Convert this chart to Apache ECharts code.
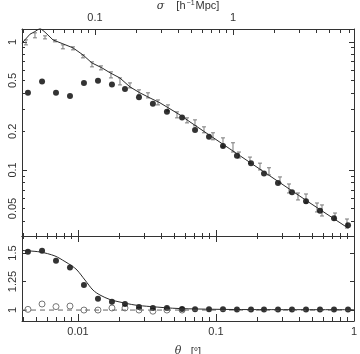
<!DOCTYPE html>
<html>
<head>
<meta charset="utf-8">
<script src="https://cdn.jsdelivr.net/npm/echarts@6/dist/echarts.min.js"></script>
<style>
  html, body { margin: 0; padding: 0; background: #fff; }
  #chart { width: 360px; height: 354px; }
</style>
</head>
<body>
<div id="chart"></div>
<script>
// axis ranges
const THETA_MIN = 0.00393, THETA_MAX = 1;
const SIGMA_MIN = 0.0296, SIGMA_MAX = 7.53;
const W_MIN = 0.0305, W_MAX = 1.26;
const RATIO_MIN = 0.904, RATIO_MAX = 1.649;

// tick values
const THETA_MAJOR = [0.01, 0.1];
const THETA_MINOR = [0.004, 0.005, 0.006, 0.007, 0.008, 0.009,
  0.02, 0.03, 0.04, 0.05, 0.06, 0.07, 0.08, 0.09,
  0.2, 0.3, 0.4, 0.5, 0.6, 0.7, 0.8, 0.9];
const THETA_LABELS = [0.01, 0.1, 1];
const SIGMA_MAJOR = [0.1, 1];
const SIGMA_MINOR = [0.03, 0.04, 0.05, 0.06, 0.07, 0.08, 0.09,
  0.2, 0.3, 0.4, 0.5, 0.6, 0.7, 0.8, 0.9, 2, 3, 4, 5, 6, 7];
const SIGMA_LABELS = [0.1, 1];
const W_MAJOR = [0.1, 1];
const W_MINOR = [0.04, 0.05, 0.06, 0.07, 0.08, 0.09,
  0.2, 0.3, 0.4, 0.5, 0.6, 0.7, 0.8, 0.9];
const W_LABELS = [0.05, 0.1, 0.2, 0.5, 1];
const RATIO_TICKS = [1, 1.25, 1.5];

// binned points (shared theta)
const THETA_PTS = [0.00434, 0.00549, 0.00693, 0.00875, 0.01105, 0.01396, 0.01763, 0.02191,
  0.02767, 0.0349, 0.0441, 0.0568, 0.0705, 0.089, 0.1124, 0.1419, 0.1794, 0.2228,
  0.2813, 0.3553, 0.449, 0.5672, 0.7165, 0.905];
const W_FILLED = [0.40, 0.49, 0.40, 0.378, 0.478, 0.497, 0.465, 0.428,
  0.37, 0.328, 0.285, 0.257, 0.205, 0.182, 0.154, 0.129, 0.113, 0.094,
  0.079, 0.067, 0.057, 0.048, 0.042, 0.037];
const RATIO_FILLED = [1.511, 1.52, 1.432, 1.374, 1.219, 1.1, 1.073, 1.053,
  1.026, 1.018, 1.018, 1.01, 1.006, 1.006, 1.006, 1.005, 1.005, 1.005,
  1.005, 1.005, 1.004, 1.004, 1.004, 1.004];
const RATIO_OPEN = [1.006, 1.053, 1.03, 1.035, 1.0, 1.0, 1.018, 1.018, 1.0, 0.99, 1.0, 1.0];

// error bar sample
const EB_THETA = [0.0042, 0.00488, 0.00577, 0.00681, 0.00778, 0.0092, 0.01087, 0.01263,
  0.01468, 0.01734, 0.02015, 0.02381, 0.02767, 0.03215, 0.038, 0.0449, 0.05218, 0.06165,
  0.07045, 0.08185, 0.09512, 0.1124, 0.1328, 0.1468, 0.1763, 0.2084, 0.2421, 0.2909,
  0.338, 0.3928, 0.449, 0.5393, 0.5862, 0.7284, 0.8897];
const EB_LOW = [0.947, 1.075, 1.055, 1.0, 0.882, 0.866, 0.75, 0.638,
  0.604, 0.523, 0.461, 0.437, 0.386, 0.365, 0.322, 0.289, 0.255, 0.233,
  0.221, 0.195, 0.172, 0.151, 0.138, 0.124, 0.113, 0.100, 0.0914, 0.0791,
  0.0661, 0.0583, 0.0552, 0.047, 0.0437, 0.0407, 0.0352];
const EB_HIGH = [1.037, 1.176, 1.114, 1.037, 0.947, 0.914, 0.791, 0.698,
  0.649, 0.583, 0.523, 0.478, 0.422, 0.40, 0.352, 0.322, 0.284, 0.255,
  0.246, 0.217, 0.195, 0.178, 0.163, 0.138, 0.126, 0.113, 0.104, 0.0882,
  0.0777, 0.0661, 0.0649, 0.0552, 0.0533, 0.0461, 0.0414];

// model curve, upper panel
const FIT_THETA = [0.00393, 0.00413, 0.00449, 0.00488, 0.00531, 0.00577, 0.00659, 0.00778,
  0.0092, 0.01087, 0.0126, 0.0149, 0.0171, 0.0201, 0.0238, 0.0281, 0.0332, 0.0393,
  0.0464, 0.0548, 0.0648, 0.126, 0.246, 0.48, 0.905];
const FIT_W = [0.977, 1.037, 1.148, 1.203, 1.28, 1.19, 1.036, 0.965,
  0.898, 0.791, 0.685, 0.627, 0.573, 0.523, 0.445, 0.40, 0.365, 0.334,
  0.30, 0.269, 0.237, 0.146, 0.0898, 0.0552, 0.0352];

// model curve, lower panel
const RFIT_THETA = [0.00393, 0.00531, 0.00681, 0.00805, 0.00906, 0.00984, 0.01124, 0.01285,
  0.01443, 0.01706, 0.02015, 0.02588, 0.0332, 0.0548, 0.1763, 1];
const RFIT_Y = [1.522, 1.509, 1.474, 1.425, 1.386, 1.351, 1.263, 1.175,
  1.132, 1.092, 1.07, 1.044, 1.031, 1.013, 1.004, 1.003];
const REF_THETA = [0.00393, 1];
const REF_Y = [1, 1];

const INK = '#333';
const FONT = 'Liberation Sans';
const zip = (a, b) => a.map((v, i) => [v, b[i]]);

function axis(o) {
  return {
    type: o.type || 'log',
    logBase: 10,
    gridIndex: o.grid,
    position: o.pos,
    min: o.min,
    max: o.max,
    axisLine: { show: !!o.line, onZero: false, lineStyle: { color: INK, width: 1 } },
    axisTick: { show: true, inside: true, length: o.len, customValues: o.ticks,
      lineStyle: { color: INK, width: 1 } },
    axisLabel: o.labels ? {
      show: true, customValues: o.labels, margin: o.margin || 4, rotate: o.rotate || 0,
      color: INK, fontFamily: FONT, fontSize: 11,
      formatter: (v) => String(v)
    } : { show: false },
    splitLine: { show: false },
    name: o.name || '',
    nameLocation: 'middle',
    nameGap: o.nameGap || 0,
    nameMoveOverlap: false,
    nameTextStyle: {
      color: INK, fontFamily: FONT, fontSize: 11,
      rich: {
        i: { fontStyle: 'italic', fontFamily: 'DejaVu Serif', fontSize: 11, color: INK },
        s: { fontSize: 7, fontFamily: FONT, color: INK, verticalAlign: 'top', padding: [0, 1, 5, 1] },
        t: { fontSize: 11, fontFamily: FONT, color: INK }
      }
    },
    silent: true
  };
}

const chart = echarts.init(document.getElementById('chart'), null, { renderer: 'canvas' });

chart.setOption({
  animation: false,
  backgroundColor: '#fff',
  grid: [
    { left: 22, right: 6, top: 29, height: 207, outerBoundsMode: 'none', containLabel: false },
    { left: 22, right: 6, top: 236, height: 85, outerBoundsMode: 'none', containLabel: false }
  ],
  xAxis: [
    axis({ grid: 0, pos: 'bottom', min: THETA_MIN, max: THETA_MAX, line: true, ticks: THETA_MAJOR, len: 6 }),
    axis({ grid: 0, pos: 'bottom', min: THETA_MIN, max: THETA_MAX, ticks: THETA_MINOR, len: 3 }),
    axis({ grid: 0, pos: 'top', min: SIGMA_MIN, max: SIGMA_MAX, line: true, ticks: SIGMA_MAJOR, len: 6,
      labels: SIGMA_LABELS, margin: 6,
      name: '{i|σ}{t|    [h}{s|−1}{t|Mpc]}', nameGap: 17 }),
    axis({ grid: 0, pos: 'top', min: SIGMA_MIN, max: SIGMA_MAX, ticks: SIGMA_MINOR, len: 4 }),
    axis({ grid: 1, pos: 'bottom', min: THETA_MIN, max: THETA_MAX, line: true, ticks: THETA_MAJOR, len: 7,
      labels: THETA_LABELS, margin: 5,
      name: '{i|θ}{t|   [°]}', nameGap: 25 }),
    axis({ grid: 1, pos: 'bottom', min: THETA_MIN, max: THETA_MAX, ticks: THETA_MINOR, len: 4 }),
    axis({ grid: 1, pos: 'top', min: THETA_MIN, max: THETA_MAX, line: true, ticks: THETA_MAJOR, len: 6 }),
    axis({ grid: 1, pos: 'top', min: THETA_MIN, max: THETA_MAX, ticks: THETA_MINOR, len: 3 })
  ],
  yAxis: [
    axis({ grid: 0, pos: 'left', min: W_MIN, max: W_MAX, line: true, ticks: W_MAJOR, len: 5,
      labels: W_LABELS, rotate: 90, margin: 4 }),
    axis({ grid: 0, pos: 'left', min: W_MIN, max: W_MAX, ticks: W_MINOR, len: 3 }),
    axis({ grid: 0, pos: 'right', min: W_MIN, max: W_MAX, line: true, ticks: W_MAJOR, len: 5 }),
    axis({ grid: 0, pos: 'right', min: W_MIN, max: W_MAX, ticks: W_MINOR, len: 3 }),
    axis({ grid: 1, type: 'value', pos: 'left', min: RATIO_MIN, max: RATIO_MAX, line: true,
      ticks: RATIO_TICKS, len: 4, labels: RATIO_TICKS, rotate: 90, margin: 4 }),
    axis({ grid: 1, type: 'value', pos: 'right', min: RATIO_MIN, max: RATIO_MAX, line: true,
      ticks: RATIO_TICKS, len: 4 })
  ],
  series: [
    {
      type: 'custom',
      xAxisIndex: 0, yAxisIndex: 0,
      data: EB_THETA.map((t, i) => [t, EB_LOW[i], EB_HIGH[i]]),
      encode: { x: 0, y: [1, 2] },
      renderItem: (params, api) => {
        const t = api.value(0);
        const lo = api.coord([t, api.value(1)]);
        const hi = api.coord([t, api.value(2)]);
        const st = { stroke: '#7a7a7a', lineWidth: 1 };
        const w = 2;
        return {
          type: 'group',
          children: [
            { type: 'line', shape: { x1: lo[0], y1: lo[1], x2: hi[0], y2: hi[1] }, style: st },
            { type: 'line', shape: { x1: lo[0] - w, y1: lo[1], x2: lo[0] + w, y2: lo[1] }, style: st },
            { type: 'line', shape: { x1: hi[0] - w, y1: hi[1], x2: hi[0] + w, y2: hi[1] }, style: st }
          ]
        };
      },
      silent: true
    },
    {
      type: 'line',
      xAxisIndex: 0, yAxisIndex: 0,
      data: zip(FIT_THETA, FIT_W),
      showSymbol: false,
      clip: true,
      lineStyle: { color: '#2a2a2a', width: 1 },
      silent: true
    },
    {
      type: 'scatter',
      xAxisIndex: 0, yAxisIndex: 0,
      data: zip(THETA_PTS, W_FILLED),
      symbol: 'circle', symbolSize: 6,
      itemStyle: { color: '#000' },
      silent: true
    },
    {
      type: 'line',
      xAxisIndex: 4, yAxisIndex: 4,
      data: zip(REF_THETA, REF_Y),
      showSymbol: false,
      lineStyle: { color: '#666', width: 1, type: [5, 4] },
      silent: true
    },
    {
      type: 'line',
      xAxisIndex: 4, yAxisIndex: 4,
      data: zip(RFIT_THETA, RFIT_Y),
      showSymbol: false,
      smooth: 0.3,
      lineStyle: { color: '#2a2a2a', width: 1 },
      silent: true
    },
    {
      type: 'scatter',
      xAxisIndex: 4, yAxisIndex: 4,
      data: zip(THETA_PTS.slice(0, RATIO_OPEN.length), RATIO_OPEN),
      symbol: 'circle', symbolSize: 6,
      itemStyle: { color: '#fff', borderColor: '#555', borderWidth: 1 },
      silent: true
    },
    {
      type: 'scatter',
      xAxisIndex: 4, yAxisIndex: 4,
      data: zip(THETA_PTS, RATIO_FILLED),
      symbol: 'circle', symbolSize: 6,
      itemStyle: { color: '#000' },
      silent: true
    }
  ]
});
</script>
</body>
</html>
